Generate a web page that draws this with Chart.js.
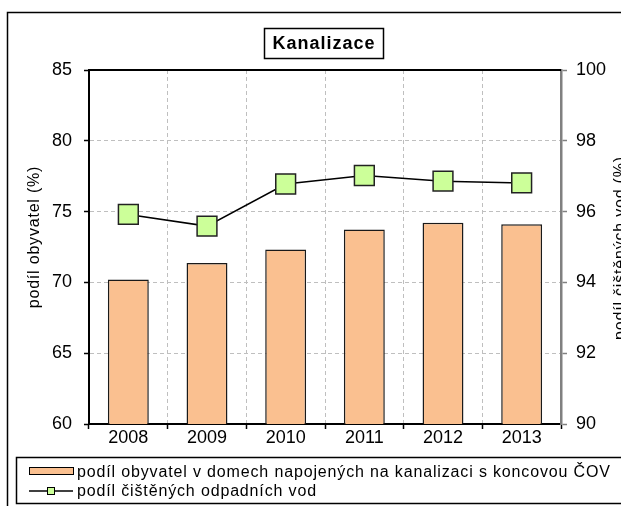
<!DOCTYPE html>
<html>
<head>
<meta charset="utf-8">
<script src="https://cdn.jsdelivr.net/npm/chart.js@4.4.1/dist/chart.umd.min.js"></script>
<style>
    html, body { margin: 0; padding: 0; background: #fff; overflow: hidden; }
    #wrap { width: 621px; height: 506px; overflow: hidden; }
    canvas { display: block; }
</style>
</head>
<body>
<div id="wrap"><canvas id="chart" width="640" height="506"></canvas></div>
<script>
const years = ['2008', '2009', '2010', '2011', '2012', '2013'];
const populationShare = [70.2, 71.37, 72.32, 73.73, 74.22, 74.1];
const treatedWaterShare = [95.92, 95.59, 96.78, 97.02, 96.86, 96.81];
const leftTicks = [60, 65, 70, 75, 80, 85];
const rightTicks = [90, 92, 94, 96, 98, 100];

const chartTitle = 'Kanalizace';
const leftAxisTitle = 'podíl obyvatel (%)';
const rightAxisTitle = 'podíl čištěných vod (%)';
const barLabel = 'podíl obyvatel v domech napojených na kanalizaci s koncovou ČOV';
const lineLabel = 'podíl čištěných odpadních vod';

const FONT = '"Liberation Sans", Arial, sans-serif';
const BAR_FILL = '#FAC090';
const POINT_FILL = '#CCFF99';

// frame, title box, axis titles and legend box (Excel style)
const decorations = {
    id: 'decorations',
    afterDraw(chart) {
        const ctx = chart.ctx;
        const area = chart.chartArea;
        ctx.save();

        // outer chart frame
        ctx.strokeStyle = '#000';
        ctx.lineWidth = 1.5;
        ctx.strokeRect(7.5, 12.5, 700, 600);

        // top edge of plot area
        ctx.lineWidth = 2;
        ctx.beginPath();
        ctx.moveTo(area.left - 1, area.top);
        ctx.lineTo(area.right, area.top);
        ctx.stroke();

        // title in a box
        ctx.font = 'bold 18px ' + FONT;
        ctx.letterSpacing = '1px';
        ctx.fillStyle = '#000';
        ctx.textAlign = 'center';
        ctx.textBaseline = 'middle';
        ctx.fillText(chartTitle, 324, 44);
        ctx.letterSpacing = '0px';
        ctx.lineWidth = 1.5;
        ctx.strokeRect(264.5, 28.5, 119, 30);

        // axis titles
        ctx.font = '16px ' + FONT;
        ctx.letterSpacing = '0.8px';
        ctx.textBaseline = 'alphabetic';
        ctx.save();
        ctx.translate(39, 237);
        ctx.rotate(-Math.PI / 2);
        ctx.fillText(leftAxisTitle, 0, 0);
        ctx.restore();

        ctx.save();
        ctx.translate(625, 248);
        ctx.rotate(-Math.PI / 2);
        ctx.fillText(rightAxisTitle, 0, 0);
        ctx.restore();

        // legend
        ctx.lineWidth = 1.5;
        ctx.strokeRect(16.5, 457.5, 700, 46);

        const barDs = chart.data.datasets[0];
        const lineDs = chart.data.datasets[1];

        ctx.fillStyle = barDs.backgroundColor;
        ctx.fillRect(29, 467, 44, 7);
        ctx.strokeStyle = '#000';
        ctx.lineWidth = 1;
        ctx.strokeRect(29.5, 467.5, 44, 7);

        ctx.strokeStyle = lineDs.borderColor;
        ctx.lineWidth = 1.5;
        ctx.beginPath();
        ctx.moveTo(29, 491);
        ctx.lineTo(73, 491);
        ctx.stroke();
        ctx.fillStyle = lineDs.pointBackgroundColor;
        ctx.fillRect(47, 487, 8, 8);
        ctx.lineWidth = 1;
        ctx.strokeRect(47.5, 487.5, 7, 7);

        ctx.fillStyle = '#000';
        ctx.textAlign = 'left';
        ctx.font = '16px ' + FONT;
        ctx.letterSpacing = '0.85px';
        ctx.fillText(barDs.label, 77, 477);
        ctx.fillText(lineDs.label, 77, 496);
        ctx.restore();
    }
};

new Chart(document.getElementById('chart'), {
    type: 'bar',
    data: {
        labels: years,
        datasets: [
            {
                type: 'bar',
                label: barLabel,
                data: populationShare,
                yAxisID: 'y',
                backgroundColor: BAR_FILL,
                borderColor: '#1a1a1a',
                borderWidth: 1.5,
                barPercentage: 0.52,
                categoryPercentage: 1,
                order: 2
            },
            {
                type: 'line',
                label: lineLabel,
                data: treatedWaterShare,
                yAxisID: 'y1',
                borderColor: '#000',
                borderWidth: 1.5,
                pointStyle: 'rect',
                pointRadius: 14,
                pointBackgroundColor: POINT_FILL,
                pointBorderColor: '#222',
                pointBorderWidth: 1.5,
                tension: 0,
                order: 1
            }
        ]
    },
    options: {
        responsive: false,
        animation: false,
        layout: { padding: { top: 70, bottom: 58, left: 0, right: 0 } },
        plugins: {
            legend: { display: false },
            title: { display: false },
            tooltip: { enabled: false }
        },
        scales: {
            x: {
                offset: true,
                grid: {
                    offset: true,
                    color: '#BFBFBF',
                    lineWidth: 1,
                    tickLength: 5,
                    tickColor: '#000',
                    tickWidth: 1.5
                },
                border: { color: '#000', width: 2, dash: [4, 3] },
                ticks: {
                    color: '#000',
                    padding: -2,
                    font: { family: FONT, size: 18 }
                },
                afterFit(scale) { scale.height = 24; }
            },
            y: {
                position: 'left',
                min: 60,
                max: 85,
                afterBuildTicks(scale) { scale.ticks = leftTicks.map(v => ({ value: v })); },
                grid: {
                    color: '#BFBFBF',
                    lineWidth: 1,
                    tickLength: 5,
                    tickColor: '#000',
                    tickWidth: 1.5
                },
                border: { color: '#000', width: 2, dash: [4, 3] },
                ticks: {
                    color: '#000',
                    padding: 12,
                    font: { family: FONT, size: 18 }
                },
                afterFit(scale) { scale.width = 89; }
            },
            y1: {
                position: 'right',
                min: 90,
                max: 100,
                afterBuildTicks(scale) { scale.ticks = rightTicks.map(v => ({ value: v })); },
                grid: {
                    drawOnChartArea: false,
                    tickLength: 6,
                    tickColor: '#808080',
                    tickWidth: 1.5
                },
                border: { color: '#808080', width: 2.5 },
                ticks: {
                    color: '#000',
                    padding: 9,
                    font: { family: FONT, size: 18 }
                },
                afterFit(scale) { scale.width = 79; }
            }
        }
    },
    plugins: [decorations]
});
</script>
</body>
</html>
